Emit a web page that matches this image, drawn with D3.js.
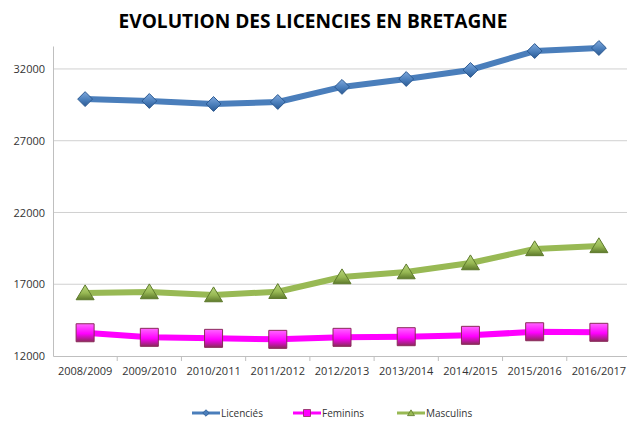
<!DOCTYPE html>
<html>
<head>
<meta charset="utf-8">
<script src="https://cdn.jsdelivr.net/npm/d3@7"></script>
<style>
  html, body { margin: 0; padding: 0; background: #fff; }
  svg { display: block; font-family: "Open Sans", "Liberation Sans", sans-serif; }
</style>
</head>
<body>
<svg id="chart" width="627" height="421"></svg>
<script>
(function () {
  // --- data ---
  const seasons = ["2008/2009", "2009/2010", "2010/2011", "2011/2012", "2012/2013",
                   "2013/2014", "2014/2015", "2015/2016", "2016/2017"];
  const licencies = [29900, 29770, 29560, 29700, 30750, 31300, 31930, 33250, 33460];
  const feminins  = [13620, 13300, 13230, 13160, 13300, 13345, 13440, 13690, 13650];
  const masculins = [16390, 16460, 16250, 16480, 17505, 17850, 18480, 19460, 19670];
  const yTicks = [12000, 17000, 22000, 27000, 32000];

  const series = [
    { name: "Licenciés", values: licencies, color: "#4a7ebb", dark: "#2c5a92", light: "#7fa8dc", marker: "diamond" },
    { name: "Feminins",  values: feminins,  color: "#ff00ff", dark: "#8a2a5a", light: "#ff66ff", marker: "square" },
    { name: "Masculins", values: masculins, color: "#98b954", dark: "#5e7a2c", light: "#b9d67e", marker: "triangle" }
  ];

  const svg = d3.select("#chart");
  const W = 627, H = 421;
  const margin = { top: 46, right: -4, bottom: 65, left: 53 };
  const width = W - margin.left - margin.right;
  const height = H - margin.top - margin.bottom;

  const defs = svg.append("defs");
  series.forEach((s, i) => {
    const grad = defs.append("linearGradient")
      .attr("id", "mk" + i)
      .attr("x1", "0%").attr("y1", "0%").attr("x2", "0%").attr("y2", "100%");
    grad.append("stop").attr("offset", "0%").attr("stop-color", s.light);
    grad.append("stop").attr("offset", "55%").attr("stop-color", s.color);
    grad.append("stop").attr("offset", "100%").attr("stop-color", s.dark);
  });

  // title
  svg.append("text")
    .attr("x", 313)
    .attr("y", 28)
    .attr("text-anchor", "middle")
    .style("font-family", "'Open Sans', sans-serif")
    .style("font-size", "19px")
    .style("font-weight", "700")
    .attr("textLength", 389)
    .attr("lengthAdjust", "spacingAndGlyphs")
    .text("EVOLUTION DES LICENCIES EN BRETAGNE");

  const g = svg.append("g").attr("transform", `translate(${margin.left},${margin.top})`);

  const x = d3.scaleBand().domain(seasons).range([0, width]).padding(0);
  const y = d3.scaleLinear().domain([12000, 33600]).range([height, 0]);

  // gridlines
  g.selectAll("line.grid")
    .data(yTicks.slice(1))
    .enter()
    .append("line")
    .attr("class", "grid")
    .attr("x1", 0)
    .attr("x2", width)
    .attr("y1", d => y(d))
    .attr("y2", d => y(d))
    .attr("stroke", "#d0d0d0")
    .attr("stroke-width", 1);

  // y axis
  const yAxis = g.append("g")
    .call(d3.axisLeft(y).tickValues(yTicks).tickSize(0).tickPadding(8).tickFormat(d3.format("d")));
  yAxis.select(".domain").attr("stroke", "#bfbfbf");
  yAxis.selectAll("text")
    .style("font-family", "'Open Sans', sans-serif")
    .style("font-size", "11px")
    .attr("fill", "#333");

  // x axis
  const xAxis = g.append("g")
    .attr("transform", `translate(0,${height})`)
    .call(d3.axisBottom(x).tickSize(0).tickPadding(11));
  xAxis.select(".domain").attr("stroke", "#bfbfbf");
  xAxis.selectAll("text")
    .style("font-family", "'Open Sans', sans-serif")
    .style("font-size", "11px")
    .attr("fill", "#333");
  g.append("g")
    .selectAll("line")
    .data(seasons.slice(1))
    .enter()
    .append("line")
    .attr("x1", d => x(d))
    .attr("x2", d => x(d))
    .attr("y1", height)
    .attr("y2", height + 5)
    .attr("stroke", "#bfbfbf");

  const cx = d => x(d) + x.bandwidth() / 2;

  function markerPath(type, size) {
    if (type === "diamond") return d3.symbol(d3.symbolDiamond2, size * size * 0.55)();
    if (type === "square") { const h = size / 2; return `M${-h},${-h}H${h}V${h}H${-h}Z`; }
    const h = size / 2;
    return `M0,${-h * 0.9}L${h},${h * 0.75}L${-h},${h * 0.75}Z`;
  }
  const markerSize = { diamond: 16, square: 18, triangle: 18 };

  const line = d3.line()
    .x((d, i) => cx(seasons[i]))
    .y(d => y(d));

  series.forEach((s, si) => {
    g.append("path")
      .datum(s.values)
      .attr("fill", "none")
      .attr("stroke", s.color)
      .attr("stroke-width", 6)
      .attr("stroke-linejoin", "round")
      .attr("d", line);

    g.selectAll("path.mk" + si)
      .data(s.values)
      .enter()
      .append("path")
      .attr("class", "mk" + si)
      .attr("transform", (d, i) => `translate(${cx(seasons[i])},${y(d)})`)
      .attr("d", markerPath(s.marker, markerSize[s.marker]))
      .attr("fill", `url(#mk${si})`)
      .attr("stroke", s.dark)
      .attr("stroke-width", 1);
  });

  // legend
  const legendX = [192, 293, 397];
  const legendY = 413;
  series.forEach((s, i) => {
    const lg = svg.append("g").attr("transform", `translate(${legendX[i]},${legendY})`);
    lg.append("line")
      .attr("x1", 0).attr("x2", 28)
      .attr("y1", 0).attr("y2", 0)
      .attr("stroke", s.color)
      .attr("stroke-width", 3);
    lg.append("path")
      .attr("transform", "translate(14,0)")
      .attr("d", markerPath(s.marker, 7))
      .attr("fill", s.color)
      .attr("stroke", s.dark)
      .attr("stroke-width", 0.8);
    lg.append("text")
      .attr("x", 29)
      .attr("y", 4)
      .style("font-family", "'Open Sans', sans-serif")
      .style("font-size", "10px")
      .attr("fill", "#333")
      .text(s.name);
  });
})();
</script>
</body>
</html>
